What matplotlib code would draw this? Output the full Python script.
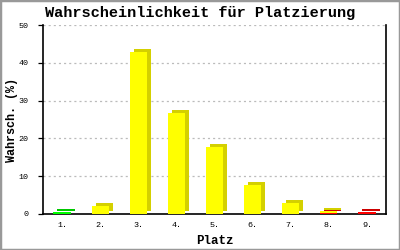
import matplotlib
matplotlib.use("Agg")
import matplotlib.pyplot as plt
from matplotlib.transforms import offset_copy
from matplotlib.patches import Rectangle
import numpy as np

places = ["1.", "2.", "3.", "4.", "5.", "6.", "7.", "8.", "9."]
green_vals = [0.5, 0, 0, 0, 0, 0, 0, 0, 0]
red_vals = [0, 0, 0, 0, 0, 0, 0, 0.3, 0.5]
yellow_vals = [0, 2.0, 42.8, 26.6, 17.6, 7.7, 2.9, 0.6, 0]
yticks = [0, 10, 20, 30, 40, 50]

plt.rcParams['lines.scale_dashes'] = False
mono = ["Liberation Mono", "DejaVu Sans Mono"]

fig = plt.figure(figsize=(4, 2.5), dpi=100)
ax = fig.add_axes([0.1075, 0.144, 0.8575, 0.756])
x = np.arange(1, len(places) + 1)
w = 0.45
depth = offset_copy(ax.transData, fig=fig, x=4, y=3, units='dots')

# stacking order: green, red, yellow
series = [
    (green_vals, "#00ff00", "#00c800"),
    (red_vals, "#ff0000", "#cc0000"),
    (yellow_vals, "#ffff00", "#d4d000"),
]
bottom = np.zeros(len(x))
for vals, front, side in series:
    v = np.array(vals, dtype=float)
    mask = v > 0
    ax.bar(x[mask], v[mask], w, bottom=bottom[mask], color=side, linewidth=0,
           transform=depth, zorder=2)
    bottom_prev = bottom.copy()
    bottom = bottom + v
    ax.bar(x[mask], v[mask], w, bottom=bottom_prev[mask],
           color=front, linewidth=0, zorder=3)

ax.set_xlim(0.5, 9.5)
ax.set_ylim(0, 50)
ax.set_yticks(yticks)
ax.set_xticks(x)
ax.set_xticklabels(places, family=mono, fontsize=6)
ax.set_yticklabels([str(t) for t in yticks], family=mono, fontsize=6)
ax.tick_params(axis='x', length=0, pad=6)
ax.tick_params(axis='y', length=3.6, width=0.9, pad=7, direction='out')
for yv in yticks[1:]:
    ax.axhline(yv, color="#bbbbbb", linewidth=0.9, linestyle=(0, (1.5, 2.2)), zorder=1)
ax.spines['top'].set_visible(False)
for s in ['left', 'right', 'bottom']:
    ax.spines[s].set_linewidth(1.2)
    ax.spines[s].set_color('black')

ax.set_xlabel("Platz", family=mono, fontsize=9, fontweight='bold', labelpad=4)
ax.set_ylabel("Wahrsch. (%)", family=mono, fontsize=8.5, fontweight='bold')
ax.yaxis.set_label_coords(-0.072, 0.5)
fig.text(0.5, 0.948, "Wahrscheinlichkeit für Platzierung", family=mono,
         fontsize=11, fontweight='bold', ha='center', va='center')

fig.patches.append(Rectangle((0, 0), 1, 1, transform=fig.transFigure,
                             fill=False, edgecolor="#999999", linewidth=2.5))
fig.savefig("out.png", dpi=100, facecolor="white")
